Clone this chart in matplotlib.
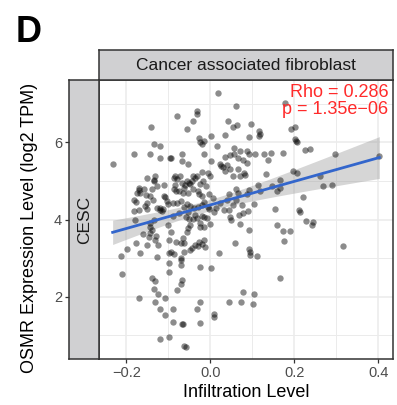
import matplotlib
matplotlib.use("Agg")
import matplotlib.pyplot as plt
import numpy as np

plt.rcParams["font.family"] = ["Liberation Sans", "DejaVu Sans"]

# ================== DATA ==================
cell_type = "Cancer associated fibroblast"
cancer = "CESC"
gene = "OSMR"
rho = 0.286
p_value = "1.35e\u221206"

infiltration = [
    # upper part
    0.018, 0.179, 0.060, -0.033, -0.033, -0.079, -0.042, 0.041, 0.064, 0.053,
    0.098, -0.142, -0.055, 0.117, 0.119, 0.193, 0.202, -0.027, 0.002, 0.036,
    0.093, 0.115, 0.203,
    # right side
    0.204, 0.207, 0.225, 0.237, 0.298, 0.403, 0.197, 0.206, 0.262, 0.268,
    0.290, 0.220, 0.212, 0.214, 0.229, 0.245, 0.243, 0.316,
    # main cloud
    -0.024, -0.020, -0.014, -0.135, -0.121, -0.183, -0.233, -0.144, -0.121, -0.097,
    -0.094, -0.067, -0.067, -0.053, 0.016, 0.056, 0.056, 0.070, 0.087, 0.091,
    0.107, 0.127, 0.145, 0.173, 0.137, 0.036, 0.046, -0.016, 0.002, 0.067,
    0.077, 0.087, 0.024, 0.025, 0.030, 0.040, 0.048, 0.036, 0.065, 0.081,
    0.083, 0.071, 0.054, 0.133, 0.153, 0.160, 0.173, 0.175, 0.189, 0.166,
    0.167, 0.147, 0.159, 0.113, 0.119, 0.091, 0.088, 0.103, 0.089, 0.069,
    0.048, 0.050, 0.044, 0.054, 0.075, 0.061, 0.066, 0.062, 0.044, 0.040,
    0.032, 0.024, 0.014, 0.006, -0.004, -0.010, -0.017, -0.024, -0.006, 0.000,
    -0.019, -0.032, -0.037, -0.041, -0.044, -0.048, -0.050, -0.056, -0.061, -0.067,
    -0.073, -0.079, -0.085, -0.087, -0.085, -0.087, -0.083, -0.074, -0.063, -0.066,
    -0.054, -0.041, -0.030, -0.028, -0.021, -0.014, -0.020, -0.029, -0.038, -0.048,
    -0.056, -0.063, -0.069, -0.079, -0.090, -0.103, -0.101, -0.111, -0.119, -0.127,
    -0.135, -0.143, -0.145, -0.139, -0.130, -0.144, -0.147, -0.125, -0.131, -0.101,
    -0.095, -0.099, -0.083, -0.071, -0.065, -0.062, -0.056, -0.053, -0.052, -0.049,
    -0.041, -0.037, -0.033, -0.025, -0.024, -0.016, -0.020, -0.014, -0.008, -0.002,
    -0.004, 0.008, -0.006, -0.054, -0.057, -0.075, -0.090, -0.113, -0.152, -0.151,
    -0.170, -0.183, -0.183, -0.178, -0.175, -0.169, -0.171, -0.167, -0.159, -0.153,
    -0.143, -0.139, -0.135, -0.133, -0.135, -0.152, -0.127, -0.111, -0.180, -0.177,
    -0.167, -0.198, -0.213, -0.161, -0.151, -0.127, -0.099, -0.095, -0.087, -0.071,
    -0.062, -0.048, -0.044, -0.036, -0.030, -0.027, -0.020, -0.016, -0.012, 0.021,
    0.058, 0.091, 0.094, 0.094, 0.111, 0.093, 0.071, 0.078, -0.024, 0.002,
    -0.071, -0.157, -0.137, -0.109, -0.121, -0.116,
    # lower part
    -0.099, -0.071, -0.099, -0.210, -0.140, -0.133, -0.067, -0.070, -0.135, -0.125,
    -0.079, -0.171, -0.107, -0.133, -0.121, -0.090, -0.108, -0.090, -0.067, -0.065,
    -0.025, -0.032, -0.025, 0.008, 0.008, 0.044, 0.073, 0.079, 0.105, 0.102,
    0.167, -0.121, -0.099, -0.063, -0.059,
]

expression = [
    # upper part
    7.29, 7.02, 6.95, 6.81, 6.75, 6.69, 6.56, 6.56, 6.44, 6.39,
    6.49, 6.41, 6.34, 6.29, 6.23, 6.34, 6.39, 6.12, 6.17, 6.19,
    6.15, 6.16, 6.09,
    # right side
    6.03, 6.00, 5.80, 5.83, 5.70, 5.65, 5.25, 5.22, 5.12, 4.88,
    4.91, 4.58, 4.24, 4.20, 3.97, 3.93, 3.85, 3.32,
    # main cloud
    6.00, 5.97, 6.03, 5.97, 5.92, 5.71, 5.43, 5.69, 5.60, 5.61,
    5.59, 5.71, 5.53, 5.45, 5.90, 5.86, 5.70, 5.78, 5.78, 5.71,
    5.71, 5.70, 5.72, 5.72, 5.55, 5.62, 5.68, 5.71, 5.53, 5.59,
    5.55, 5.46, 5.44, 5.39, 5.36, 5.42, 5.32, 5.27, 5.31, 5.22,
    5.16, 5.12, 5.12, 5.19, 4.28, 3.86, 3.71, 3.45, 3.71, 4.81,
    5.03, 4.86, 4.75, 4.90, 4.73, 4.76, 4.66, 4.41, 4.23, 4.12,
    4.08, 3.99, 4.25, 4.37, 4.39, 4.51, 4.68, 4.79, 4.66, 4.51,
    4.25, 4.42, 4.31, 4.55, 4.67, 4.88, 4.99, 4.92, 5.22, 5.12,
    5.23, 5.13, 5.09, 5.12, 5.00, 4.92, 4.94, 4.99, 4.90, 4.96,
    5.12, 5.05, 5.13, 5.09, 4.90, 4.79, 4.74, 4.74, 4.81, 4.68,
    4.68, 4.79, 4.74, 4.66, 4.61, 4.47, 4.38, 4.32, 4.29, 4.35,
    4.41, 4.32, 4.48, 4.42, 4.44, 4.49, 4.40, 4.60, 4.25, 4.29,
    3.99, 3.92, 3.82, 3.73, 3.58, 3.65, 3.54, 3.34, 3.47, 3.86,
    3.69, 3.47, 3.43, 3.39, 3.52, 3.39, 3.69, 3.78, 4.01, 3.86,
    4.01, 4.11, 4.05, 3.91, 3.82, 3.80, 4.10, 4.08, 4.05, 3.90,
    4.27, 4.21, 4.34, 4.21, 4.08, 4.16, 4.10, 4.27, 4.27, 4.42,
    4.25, 4.51, 4.22, 4.45, 4.68, 4.77, 4.81, 4.68, 4.79, 4.64,
    4.60, 4.80, 5.02, 5.12, 4.99, 5.07, 4.86, 4.91, 3.99, 3.39,
    3.13, 3.23, 3.07, 3.63, 3.34, 3.04, 3.13, 3.17, 3.11, 3.00,
    3.17, 3.21, 3.27, 3.34, 3.32, 3.42, 3.37, 3.47, 3.30, 3.13,
    3.39, 3.23, 3.17, 3.08, 3.06, 3.73, 3.90, 4.18, 2.78, 2.75,
    2.82, 4.36, 4.50, 4.59, 4.31, 4.23,
    # lower part
    2.87, 2.95, 2.65, 2.59, 2.49, 2.41, 2.43, 2.33, 2.19, 2.07,
    2.17, 1.97, 1.97, 1.86, 1.68, 1.68, 1.54, 1.35, 1.30, 1.29,
    1.86, 1.68, 1.32, 1.55, 1.48, 1.86, 1.87, 2.13, 2.08, 1.82,
    2.50, 0.90, 0.95, 0.73, 0.71,
]

x = np.array(infiltration)
y = np.array(expression)

# ================== LINEAR FIT + 95% CI ==================
n = len(x)
slope, intercept = np.polyfit(x, y, 1)
resid = y - (intercept + slope * x)
s_err = np.sqrt(np.sum(resid ** 2) / (n - 2))
x_fit = np.linspace(x.min(), x.max(), 100)
y_fit = intercept + slope * x_fit
se_fit = s_err * np.sqrt(1 / n + (x_fit - x.mean()) ** 2 / np.sum((x - x.mean()) ** 2))
t_crit = 1.969
lo = y_fit - t_crit * se_fit
hi = y_fit + t_crit * se_fit

# ================== PLOT ==================
W, H = 397, 405
fig = plt.figure(figsize=(W / 100, H / 100), dpi=100)

def fig_box(l, t, r, b):
    return [l / W, 1 - b / H, (r - l) / W, (b - t) / H]

ax = fig.add_axes(fig_box(99.3, 80, 392.7, 359.3))
strip_top = fig.add_axes(fig_box(99.3, 50, 392.7, 80))
strip_left = fig.add_axes(fig_box(69, 80, 99.3, 359.3), sharey=ax)

border = "#333333"
strip_fill = "#d0d0d2"

ax.set_axisbelow(True)
ax.set_facecolor("white")
ax.grid(which="major", color="#ebebeb", linewidth=1.1)
ax.grid(which="minor", color="#ebebeb", linewidth=0.7)

ax.fill_between(x_fit, lo, hi, color="#999999", alpha=0.4, linewidth=0, zorder=2)
ax.scatter(x, y, s=21, color="black", alpha=0.45, linewidths=0, zorder=3)
ax.plot(x_fit, y_fit, color="#3366cc", linewidth=2.0, zorder=4)

# ggplot-style 5% expansion
xr = x.max() - x.min()
yr = y.max() - y.min()
ax.set_xlim(x.min() - 0.05 * xr, x.max() + 0.05 * xr)
ax.set_ylim(y.min() - 0.05 * yr, y.max() + 0.05 * yr)

ax.set_xticks([-0.2, 0.0, 0.2, 0.4])
ax.set_xticklabels(["\u22120.2", "0.0", "0.2", "0.4"])
ax.set_xticks([-0.1, 0.1, 0.3], minor=True)
ax.set_yticks([2, 4, 6])
ax.set_yticks([1, 3, 5, 7], minor=True)
ax.tick_params(which="major", direction="out", length=3, width=0.9,
               color=border, labelsize=10.5, labelcolor="#4d4d4d", pad=2)
ax.tick_params(which="minor", length=0)
# y ticks sit outside the row strip
ax.tick_params(axis="y", which="both", length=0, labelleft=False)
for sp in ax.spines.values():
    sp.set_color(border)
    sp.set_linewidth(1.1)

ax.text(0.985, 0.985, f"Rho = {rho:.3f}\np = {p_value}", transform=ax.transAxes,
        ha="right", va="top", color="#ff2a2a", fontsize=13, linespacing=1.0, zorder=5)

ax.set_xlabel("Infiltration Level", fontsize=13, labelpad=3)
fig.text(30 / W, 1 - 228 / H, f"{gene} Expression Level (log2 TPM)",
         rotation=90, ha="center", va="center", fontsize=13)

# facet strips
for s in (strip_top, strip_left):
    s.set_facecolor(strip_fill)
    for sp in s.spines.values():
        sp.set_color(border)
        sp.set_linewidth(1.1)
strip_top.set_xticks([])
strip_top.set_yticks([])
strip_left.set_xticks([])
strip_left.tick_params(axis="y", which="major", direction="out", length=3, width=0.9,
                       color=border, labelsize=10.5, labelcolor="#4d4d4d", pad=2)
strip_left.tick_params(axis="y", which="minor", length=0)
strip_top.text(0.5, 0.5, cell_type, ha="center", va="center",
               fontsize=12.5, color="#1a1a1a")
strip_left.text(0.5, 0.5, cancer, ha="center", va="center", rotation=90,
                fontsize=12.5, color="#1a1a1a", transform=strip_left.transAxes)

fig.text(16 / W, 1 - 32 / H, "D", ha="left", va="center",
         fontsize=26, fontweight="bold")

fig.savefig("out.png", dpi=100)
